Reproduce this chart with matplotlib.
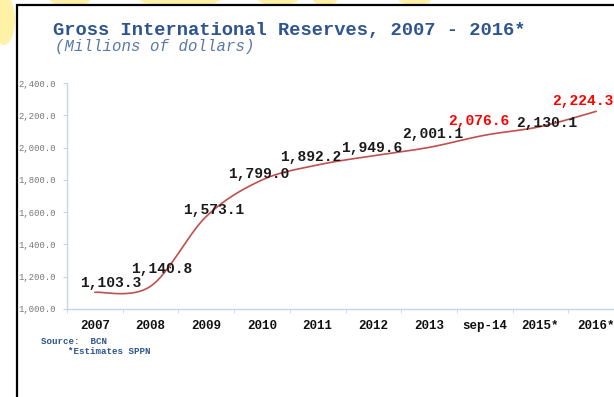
import matplotlib
matplotlib.use("Agg")
import matplotlib.pyplot as plt
import numpy as np
from matplotlib.patches import Rectangle, Ellipse

categories = ["2007", "2008", "2009", "2010", "2011", "2012", "2013",
              "sep-14", "2015*", "2016*"]
reserves = [1103.3, 1140.8, 1573.1, 1799.0, 1892.2, 1949.6, 2001.1,
            2076.6, 2130.1, 2224.3]
highlight = ["sep-14", "2016*"]
y_ticks = [1000, 1200, 1400, 1600, 1800, 2000, 2200, 2400]

# label offsets from each point, in pixels (x right, y up)
label_offsets = [(16, 9), (11, 17), (7, 6), (-3, 6), (-7, 8), (-2, 8),
                 (4, 13), (-6, 14), (6, 4), (-13, 10)]

TITLE_BLUE = "#2E5591"
LINE_RED = "#C0504D"


def smooth_curve(x, y, n=40):
    # Bezier smoothing with control points at P1 + (P2 - P0) / 6
    pts = np.column_stack([x, y]).astype(float)
    ext = np.vstack([pts[0], pts, pts[-1]])
    out = []
    t = np.linspace(0, 1, n)[:, None]
    for i in range(len(pts) - 1):
        p0, p1, p2, p3 = ext[i], ext[i + 1], ext[i + 2], ext[i + 3]
        c1 = p1 + (p2 - p0) / 6
        c2 = p2 - (p3 - p1) / 6
        seg = ((1 - t) ** 3) * p1 + 3 * ((1 - t) ** 2) * t * c1 \
            + 3 * (1 - t) * t ** 2 * c2 + t ** 3 * p2
        out.append(seg if i == 0 else seg[1:])
    out = np.vstack(out)
    return out[:, 0], out[:, 1]


W, H = 614, 397
fig = plt.figure(figsize=(W / 100, H / 100), dpi=100)
fig.patch.set_facecolor("white")

# soft yellow shapes in the slide background (pixel centre, size)
for cx, cy, w, h in [(4, 20, 22, 50), (70, 0, 40, 12), (180, 0, 80, 12),
                     (278, 0, 40, 10), (325, 0, 24, 10), (415, 0, 32, 10)]:
    fig.patches.append(Ellipse((cx / W, 1 - cy / H), w / W, h / H,
                               transform=fig.transFigure, facecolor="#FFF2A6",
                               edgecolor="none", zorder=0))

# framed white panel
fig.patches.append(Rectangle((17 / W, -0.1), 1.0, (392 / H) + 0.1,
                             transform=fig.transFigure, facecolor="white",
                             edgecolor="black", linewidth=1.6, zorder=1))

fig.text(53 / W, 1 - 31 / H, "Gross International Reserves, 2007 - 2016*",
         family="Liberation Mono", weight="bold", fontsize=13.5,
         color=TITLE_BLUE, va="center", ha="left")
fig.text(55 / W, 1 - 47 / H, "(Millions of dollars)",
         family="Liberation Mono", style="italic", fontsize=11.3,
         color="#5A78A8", va="center", ha="left")

fig.text(41 / W, 1 - 342 / H, "Source:  BCN", family="Liberation Mono",
         weight="bold", fontsize=6.6, color=TITLE_BLUE, va="center")
fig.text(68 / W, 1 - 351 / H, "*Estimates SPPN", family="Liberation Mono",
         weight="bold", fontsize=6.6, color=TITLE_BLUE, va="center")

ax = fig.add_axes([67 / W, 88 / H, 557 / W, 226 / H])
ax.set_zorder(2)
ax.patch.set_alpha(0)

x = np.arange(len(categories))
sx, sy = smooth_curve(x, reserves)
ax.plot(sx, sy, color=LINE_RED, linewidth=1.2, solid_capstyle="round")

for xi, val, cat, (dx, dy) in zip(x, reserves, categories, label_offsets):
    color = "#FF0000" if cat in highlight else "#1A1A1A"
    ax.annotate(f"{val:,.1f}", (xi, val), xytext=(dx, dy),
                textcoords="offset pixels", ha="center", va="center",
                family="Liberation Mono", weight="bold", fontsize=10.5,
                color=color)

ax.set_xlim(-0.5, len(categories) - 0.5)
ax.set_ylim(y_ticks[0], y_ticks[-1])

ax.set_xticks(x)
ax.set_xticklabels(categories, family="Liberation Mono", weight="bold",
                   fontsize=9, color="#111111")
ax.set_xticks(np.arange(len(categories) + 1) - 0.5, minor=True)
ax.tick_params(axis="x", which="major", length=0, pad=8)
ax.tick_params(axis="x", which="minor", length=3, color="#C5D5EE", direction="out")

ax.set_yticks(y_ticks)
ax.set_yticklabels([f"{v:,.1f}" for v in y_ticks], family="Liberation Mono",
                   fontsize=6.4, color="#777777")
ax.tick_params(axis="y", length=3, color="#C5D5EE", pad=5)

for side in ["top", "right"]:
    ax.spines[side].set_visible(False)
for side in ["left", "bottom"]:
    ax.spines[side].set_color("#C5D5EE")
    ax.spines[side].set_linewidth(1.0)

fig.savefig("out.png", dpi=100)
